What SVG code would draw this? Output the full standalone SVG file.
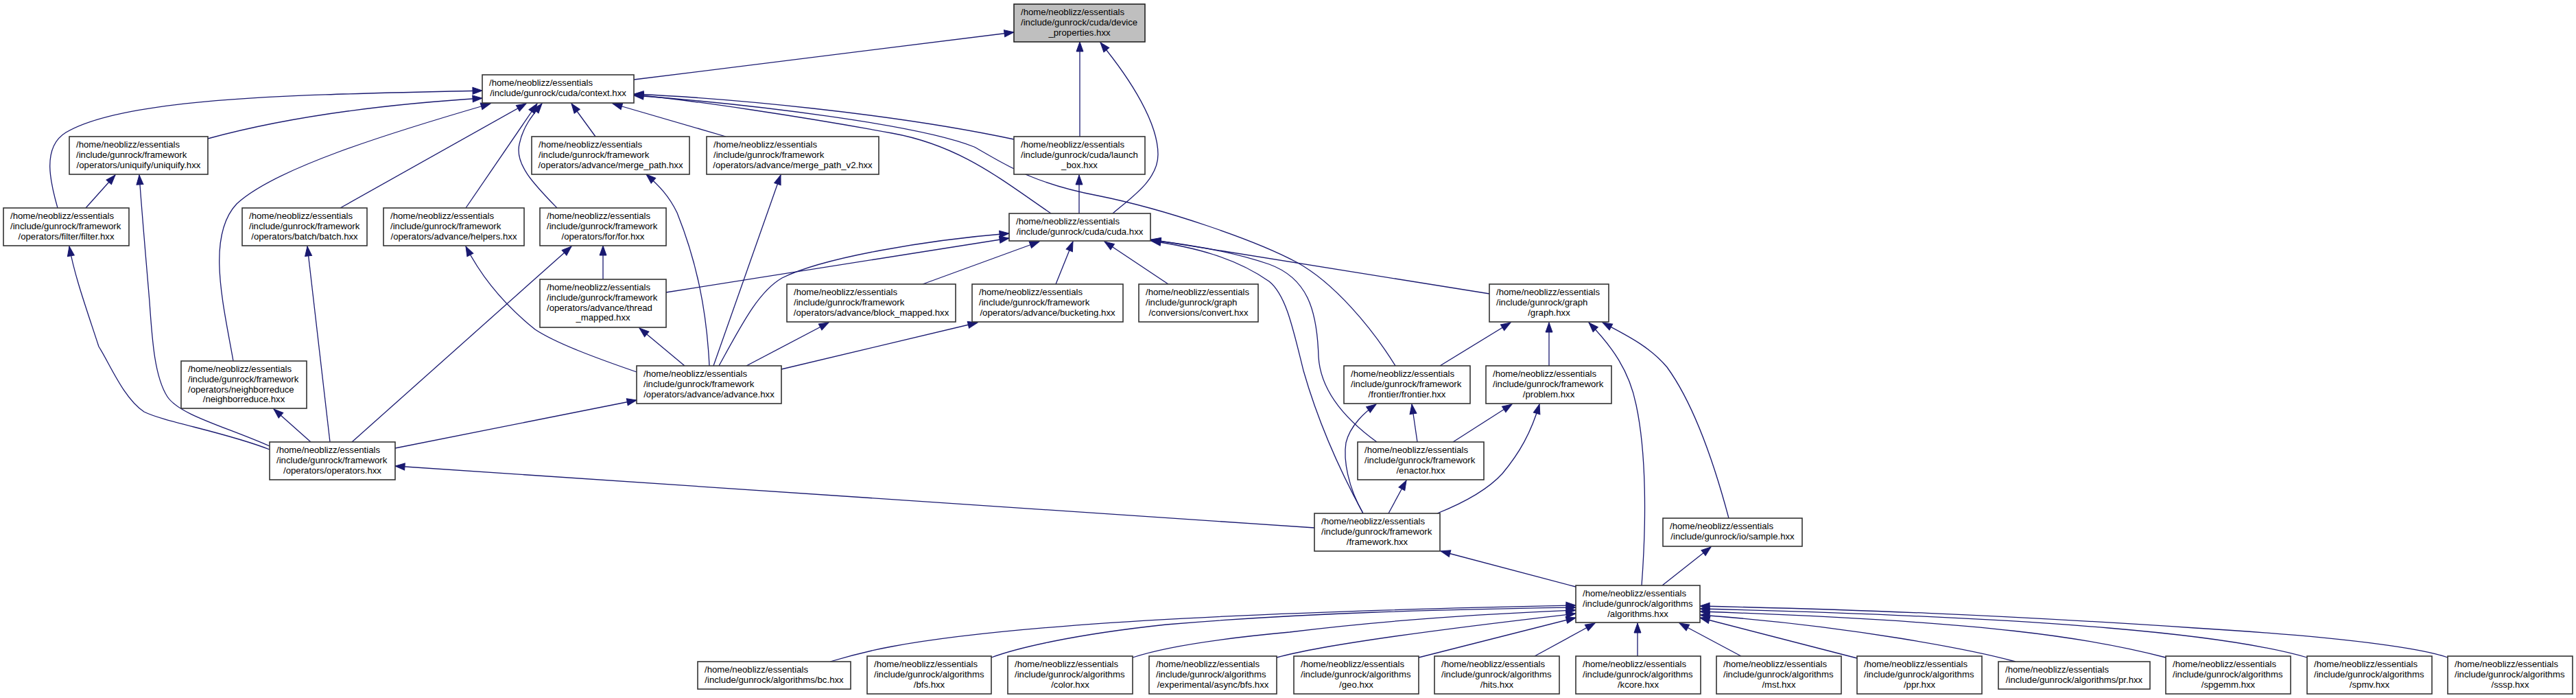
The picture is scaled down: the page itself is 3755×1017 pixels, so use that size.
<svg xmlns="http://www.w3.org/2000/svg" width="3755" height="1017" viewBox="0 0 3755 1017">
<style>
.node rect{fill:#ffffff;stroke:#333333;stroke-width:1.6}
.node rect.cur{fill:#bfbfbf;stroke:#222222}
.node text{font-family:"Liberation Sans",Arial,Helvetica,sans-serif;font-size:13.2px;fill:#000000}
.node text.c{text-anchor:middle}
.edge{fill:none;stroke:#191970;stroke-width:1.3;marker-end:url(#arr)}
</style>
<defs>
<marker id="arr" markerUnits="userSpaceOnUse" markerWidth="15" markerHeight="11" refX="14" refY="5" orient="auto" overflow="visible">
<path d="M0,0 L14,5 L0,10 z" fill="#191970" stroke="#191970" stroke-width="1"/>
</marker>
</defs>
<rect x="0" y="0" width="3755" height="1017" fill="#ffffff"/>
<g id="connectors">
<path class="edge" d="M924,116 L1478,47"/>
<path class="edge" d="M1574,199 L1574,61"/>
<path class="edge" d="M1622,311 C1650,287 1688,262 1688,225 C1688,180 1650,118 1604,62"/>
<path class="edge" d="M1478,203 C1300,165 1060,143 924,137"/>
<path class="edge" d="M1532,311 C1460,262 1400,212 1300,194 C1170,170 1010,146 924,138"/>
<path class="edge" d="M2034,533 C2000,478 1945,412 1890,382 C1830,350 1700,305 1600,285 C1500,266 1460,236 1420,214 C1340,182 1100,152 924,139"/>
<path class="edge" d="M84,303 C74,268 60,215 96,193 C185,140 450,138 703,132"/>
<path class="edge" d="M303,202 C420,170 560,152 703,143"/>
<path class="edge" d="M340,526 C326,445 300,345 345,297 C400,246 560,196 715,151"/>
<path class="edge" d="M496,303 L767,151"/>
<path class="edge" d="M679,303 L783,151"/>
<path class="edge" d="M812,303 C780,270 750,240 757,210 C762,185 776,168 790,151"/>
<path class="edge" d="M868,199 L833,151"/>
<path class="edge" d="M1058,199 L893,151"/>
<path class="edge" d="M125,303 L168,255"/>
<path class="edge" d="M393,655 C330,630 240,615 210,600 C180,580 160,530 144,505 C126,450 108,400 101,359"/>
<path class="edge" d="M393,650 C330,622 262,605 244,578 C226,550 222,500 218,440 C213,380 206,300 203,255"/>
<path class="edge" d="M453,644 L399,596"/>
<path class="edge" d="M481,644 L448,359"/>
<path class="edge" d="M513,644 L833,359"/>
<path class="edge" d="M576,653 L928,583"/>
<path class="edge" d="M1916,769 L576,679"/>
<path class="edge" d="M928,542 C870,522 810,500 780,480 C730,440 700,400 679,359"/>
<path class="edge" d="M998,533 L932,478"/>
<path class="edge" d="M1034,533 C1030,450 1015,380 987,310 C975,285 960,270 942,254"/>
<path class="edge" d="M1040,533 L1138,255"/>
<path class="edge" d="M1048,533 C1080,475 1105,425 1140,405 C1200,375 1350,350 1471,340"/>
<path class="edge" d="M1088,533 L1208,470"/>
<path class="edge" d="M1139,538 L1425,470"/>
<path class="edge" d="M879,407 L879,358"/>
<path class="edge" d="M971,426 L1471,347"/>
<path class="edge" d="M1345,414 L1515,352"/>
<path class="edge" d="M1539,414 L1564,352"/>
<path class="edge" d="M1703,414 L1610,352"/>
<path class="edge" d="M1573,311 L1573,255"/>
<path class="edge" d="M2171,428 L1678,349"/>
<path class="edge" d="M2007,644 C1960,610 1925,570 1922,520 C1920,450 1905,405 1850,385 C1800,368 1740,357 1678,350"/>
<path class="edge" d="M1987,748 C1950,680 1920,610 1900,540 C1885,480 1875,430 1850,410 C1800,375 1740,360 1678,351"/>
<path class="edge" d="M2099,533 L2202,470"/>
<path class="edge" d="M2258,533 L2258,470"/>
<path class="edge" d="M1987,748 C1965,710 1958,670 1962,645 C1968,620 1990,600 2006,589"/>
<path class="edge" d="M2066,644 L2058,589"/>
<path class="edge" d="M2118,644 L2204,589"/>
<path class="edge" d="M2095,748 C2140,730 2170,712 2190,690 C2215,660 2232,630 2244,589"/>
<path class="edge" d="M2024,748 L2050,700"/>
<path class="edge" d="M2297,855 L2100,803"/>
<path class="edge" d="M2393,853 C2400,760 2400,660 2385,590 C2375,540 2350,505 2316,470"/>
<path class="edge" d="M2520,755 C2500,680 2470,590 2430,535 C2405,505 2370,488 2336,470"/>
<path class="edge" d="M2423,853 L2494,797"/>
<path class="edge" d="M1210,964 C1240,955 1262,949 1300,942 C1500,905 1900,890 2297,882"/>
<path class="edge" d="M1445,958 C1480,945 1560,925 1700,910 C1900,893 2100,888 2297,885"/>
<path class="edge" d="M1651,958 C1690,945 1760,932 1880,921 C2000,906 2150,895 2297,889"/>
<path class="edge" d="M1861,958 C1900,947 2000,928 2297,894"/>
<path class="edge" d="M2068,958 L2297,900"/>
<path class="edge" d="M2237,956 L2325,908"/>
<path class="edge" d="M2387,956 L2387,908"/>
<path class="edge" d="M2538,956 L2448,908"/>
<path class="edge" d="M2707,959 L2478,900"/>
<path class="edge" d="M2938,964 C2880,948 2700,912 2478,896"/>
<path class="edge" d="M3157,958 C3050,930 2900,905 2478,891"/>
<path class="edge" d="M3363,958 C3250,925 3000,900 2478,887"/>
<path class="edge" d="M3568,958 C3540,948 3450,930 3200,915 C2900,895 2700,888 2478,883"/>
</g>
<g id="n_device_properties" class="node"><rect class="cur" x="1478" y="6" width="191" height="55"/><text x="1488" y="22.3">/home/neoblizz/essentials</text><text x="1488" y="37">/include/gunrock/cuda/device</text><text class="c" x="1573.5" y="51.7">_properties.hxx</text></g>
<g id="n_context" class="node"><rect x="703" y="109" width="221" height="41"/><text x="713" y="125.3">/home/neoblizz/essentials</text><text class="c" x="813.5" y="140">/include/gunrock/cuda/context.hxx</text></g>
<g id="n_uniquify" class="node"><rect x="101" y="199" width="202" height="55"/><text x="111" y="215.3">/home/neoblizz/essentials</text><text x="111" y="230">/include/gunrock/framework</text><text class="c" x="202" y="244.7">/operators/uniquify/uniquify.hxx</text></g>
<g id="n_merge_path" class="node"><rect x="775" y="199" width="230" height="55"/><text x="785" y="215.3">/home/neoblizz/essentials</text><text x="785" y="230">/include/gunrock/framework</text><text class="c" x="890" y="244.7">/operators/advance/merge_path.hxx</text></g>
<g id="n_merge_path_v2" class="node"><rect x="1030" y="199" width="251" height="55"/><text x="1040" y="215.3">/home/neoblizz/essentials</text><text x="1040" y="230">/include/gunrock/framework</text><text class="c" x="1155.5" y="244.7">/operators/advance/merge_path_v2.hxx</text></g>
<g id="n_launch_box" class="node"><rect x="1478" y="199" width="191" height="55"/><text x="1488" y="215.3">/home/neoblizz/essentials</text><text x="1488" y="230">/include/gunrock/cuda/launch</text><text class="c" x="1573.5" y="244.7">_box.hxx</text></g>
<g id="n_filter" class="node"><rect x="5" y="303" width="183" height="55"/><text x="15" y="319.3">/home/neoblizz/essentials</text><text x="15" y="334">/include/gunrock/framework</text><text class="c" x="96.5" y="348.7">/operators/filter/filter.hxx</text></g>
<g id="n_batch" class="node"><rect x="353" y="303" width="182" height="55"/><text x="363" y="319.3">/home/neoblizz/essentials</text><text x="363" y="334">/include/gunrock/framework</text><text class="c" x="444" y="348.7">/operators/batch/batch.hxx</text></g>
<g id="n_helpers" class="node"><rect x="559" y="303" width="205" height="55"/><text x="569" y="319.3">/home/neoblizz/essentials</text><text x="569" y="334">/include/gunrock/framework</text><text class="c" x="661.5" y="348.7">/operators/advance/helpers.hxx</text></g>
<g id="n_for" class="node"><rect x="787" y="303" width="184" height="55"/><text x="797" y="319.3">/home/neoblizz/essentials</text><text x="797" y="334">/include/gunrock/framework</text><text class="c" x="879" y="348.7">/operators/for/for.hxx</text></g>
<g id="n_cuda" class="node"><rect x="1471" y="311" width="206" height="40"/><text x="1481" y="327.3">/home/neoblizz/essentials</text><text class="c" x="1574" y="342">/include/gunrock/cuda/cuda.hxx</text></g>
<g id="n_thread_mapped" class="node"><rect x="787" y="407" width="184" height="70"/><text x="797" y="423.3">/home/neoblizz/essentials</text><text x="797" y="438">/include/gunrock/framework</text><text x="797" y="452.7">/operators/advance/thread</text><text class="c" x="879" y="467.4">_mapped.hxx</text></g>
<g id="n_block_mapped" class="node"><rect x="1147" y="414" width="246" height="55"/><text x="1157" y="430.3">/home/neoblizz/essentials</text><text x="1157" y="445">/include/gunrock/framework</text><text class="c" x="1270" y="459.7">/operators/advance/block_mapped.hxx</text></g>
<g id="n_bucketing" class="node"><rect x="1417" y="414" width="220" height="55"/><text x="1427" y="430.3">/home/neoblizz/essentials</text><text x="1427" y="445">/include/gunrock/framework</text><text class="c" x="1527" y="459.7">/operators/advance/bucketing.hxx</text></g>
<g id="n_convert" class="node"><rect x="1660" y="414" width="174" height="55"/><text x="1670" y="430.3">/home/neoblizz/essentials</text><text x="1670" y="445">/include/gunrock/graph</text><text class="c" x="1747" y="459.7">/conversions/convert.hxx</text></g>
<g id="n_graph" class="node"><rect x="2171" y="414" width="174" height="55"/><text x="2181" y="430.3">/home/neoblizz/essentials</text><text x="2181" y="445">/include/gunrock/graph</text><text class="c" x="2258" y="459.7">/graph.hxx</text></g>
<g id="n_neighborreduce" class="node"><rect x="264" y="526" width="183" height="69"/><text x="274" y="542.3">/home/neoblizz/essentials</text><text x="274" y="557">/include/gunrock/framework</text><text x="274" y="571.7">/operators/neighborreduce</text><text class="c" x="355.5" y="586.4">/neighborreduce.hxx</text></g>
<g id="n_advance" class="node"><rect x="928" y="533" width="211" height="55"/><text x="938" y="549.3">/home/neoblizz/essentials</text><text x="938" y="564">/include/gunrock/framework</text><text class="c" x="1033.5" y="578.7">/operators/advance/advance.hxx</text></g>
<g id="n_frontier" class="node"><rect x="1959" y="533" width="184" height="55"/><text x="1969" y="549.3">/home/neoblizz/essentials</text><text x="1969" y="564">/include/gunrock/framework</text><text class="c" x="2051" y="578.7">/frontier/frontier.hxx</text></g>
<g id="n_problem" class="node"><rect x="2166" y="533" width="183" height="55"/><text x="2176" y="549.3">/home/neoblizz/essentials</text><text x="2176" y="564">/include/gunrock/framework</text><text class="c" x="2257.5" y="578.7">/problem.hxx</text></g>
<g id="n_operators" class="node"><rect x="393" y="644" width="183" height="55"/><text x="403" y="660.3">/home/neoblizz/essentials</text><text x="403" y="675">/include/gunrock/framework</text><text class="c" x="484.5" y="689.7">/operators/operators.hxx</text></g>
<g id="n_enactor" class="node"><rect x="1979" y="644" width="184" height="55"/><text x="1989" y="660.3">/home/neoblizz/essentials</text><text x="1989" y="675">/include/gunrock/framework</text><text class="c" x="2071" y="689.7">/enactor.hxx</text></g>
<g id="n_framework" class="node"><rect x="1916" y="748" width="183" height="55"/><text x="1926" y="764.3">/home/neoblizz/essentials</text><text x="1926" y="779">/include/gunrock/framework</text><text class="c" x="2007.5" y="793.7">/framework.hxx</text></g>
<g id="n_sample" class="node"><rect x="2424" y="755" width="203" height="41"/><text x="2434" y="771.3">/home/neoblizz/essentials</text><text class="c" x="2525.5" y="786">/include/gunrock/io/sample.hxx</text></g>
<g id="n_algorithms" class="node"><rect x="2297" y="853" width="181" height="54"/><text x="2307" y="869.3">/home/neoblizz/essentials</text><text x="2307" y="884">/include/gunrock/algorithms</text><text class="c" x="2387.5" y="898.7">/algorithms.hxx</text></g>
<g id="n_bc" class="node"><rect x="1017" y="964" width="223" height="40"/><text x="1027" y="980.3">/home/neoblizz/essentials</text><text class="c" x="1128.5" y="995">/include/gunrock/algorithms/bc.hxx</text></g>
<g id="n_bfs" class="node"><rect x="1264" y="956" width="181" height="55"/><text x="1274" y="972.3">/home/neoblizz/essentials</text><text x="1274" y="987">/include/gunrock/algorithms</text><text class="c" x="1354.5" y="1001.7">/bfs.hxx</text></g>
<g id="n_color" class="node"><rect x="1469" y="956" width="182" height="55"/><text x="1479" y="972.3">/home/neoblizz/essentials</text><text x="1479" y="987">/include/gunrock/algorithms</text><text class="c" x="1560" y="1001.7">/color.hxx</text></g>
<g id="n_async_bfs" class="node"><rect x="1675" y="956" width="186" height="55"/><text x="1685" y="972.3">/home/neoblizz/essentials</text><text x="1685" y="987">/include/gunrock/algorithms</text><text class="c" x="1768" y="1001.7">/experimental/async/bfs.hxx</text></g>
<g id="n_geo" class="node"><rect x="1886" y="956" width="182" height="55"/><text x="1896" y="972.3">/home/neoblizz/essentials</text><text x="1896" y="987">/include/gunrock/algorithms</text><text class="c" x="1977" y="1001.7">/geo.hxx</text></g>
<g id="n_hits" class="node"><rect x="2091" y="956" width="182" height="55"/><text x="2101" y="972.3">/home/neoblizz/essentials</text><text x="2101" y="987">/include/gunrock/algorithms</text><text class="c" x="2182" y="1001.7">/hits.hxx</text></g>
<g id="n_kcore" class="node"><rect x="2297" y="956" width="182" height="55"/><text x="2307" y="972.3">/home/neoblizz/essentials</text><text x="2307" y="987">/include/gunrock/algorithms</text><text class="c" x="2388" y="1001.7">/kcore.hxx</text></g>
<g id="n_mst" class="node"><rect x="2502" y="956" width="182" height="55"/><text x="2512" y="972.3">/home/neoblizz/essentials</text><text x="2512" y="987">/include/gunrock/algorithms</text><text class="c" x="2593" y="1001.7">/mst.hxx</text></g>
<g id="n_ppr" class="node"><rect x="2707" y="956" width="182" height="55"/><text x="2717" y="972.3">/home/neoblizz/essentials</text><text x="2717" y="987">/include/gunrock/algorithms</text><text class="c" x="2798" y="1001.7">/ppr.hxx</text></g>
<g id="n_pr" class="node"><rect x="2913" y="964" width="221" height="40"/><text x="2923" y="980.3">/home/neoblizz/essentials</text><text class="c" x="3023.5" y="995">/include/gunrock/algorithms/pr.hxx</text></g>
<g id="n_spgemm" class="node"><rect x="3157" y="956" width="182" height="55"/><text x="3167" y="972.3">/home/neoblizz/essentials</text><text x="3167" y="987">/include/gunrock/algorithms</text><text class="c" x="3248" y="1001.7">/spgemm.hxx</text></g>
<g id="n_spmv" class="node"><rect x="3363" y="956" width="182" height="55"/><text x="3373" y="972.3">/home/neoblizz/essentials</text><text x="3373" y="987">/include/gunrock/algorithms</text><text class="c" x="3454" y="1001.7">/spmv.hxx</text></g>
<g id="n_sssp" class="node"><rect x="3568" y="956" width="182" height="55"/><text x="3578" y="972.3">/home/neoblizz/essentials</text><text x="3578" y="987">/include/gunrock/algorithms</text><text class="c" x="3659" y="1001.7">/sssp.hxx</text></g>
</svg>
